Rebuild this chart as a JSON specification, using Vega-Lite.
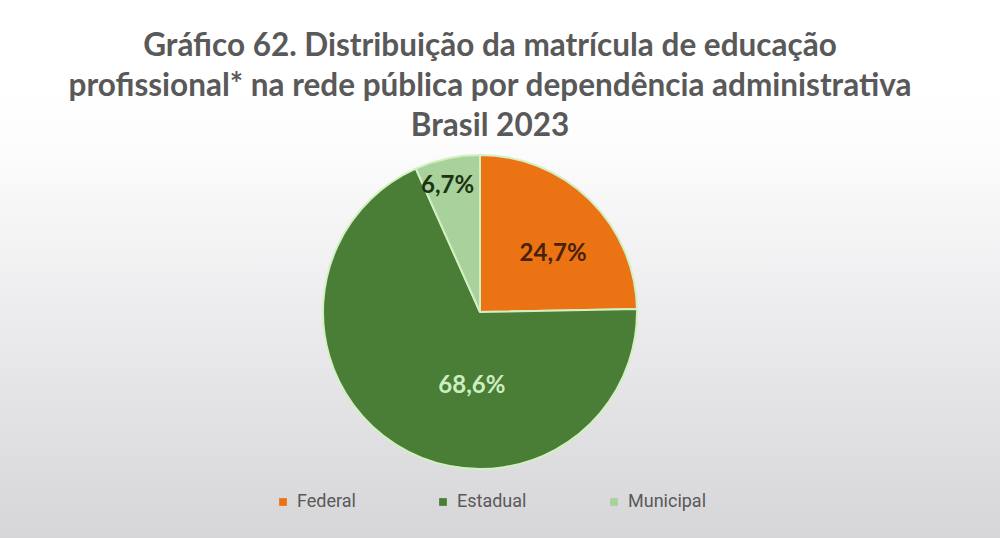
{
  "$schema": "https://vega.github.io/schema/vega-lite/v6.json",
  "width": 1000,
  "height": 452,
  "autosize": "none",
  "padding": {"top": 86, "left": 0, "right": 0, "bottom": 0},
  "background": "#ffffff",
  "config": {"view": {"stroke": null}},
  "title": {
    "text": [
      "Gráfico 62. Distribuição da matrícula de educação",
      "profissional* na rede pública por dependência administrativa",
      "Brasil 2023"
    ],
    "font": "Lato",
    "fontSize": 31.5,
    "fontWeight": "bold",
    "color": "#595959",
    "lineHeight": 40,
    "anchor": "middle",
    "frame": "group",
    "dx": -10,
    "offset": -56
  },
  "data": {
    "values": [
      {"dependencia": "Federal", "valor": 24.7, "rotulo": "24,7%", "ordem": 1},
      {"dependencia": "Estadual", "valor": 68.6, "rotulo": "68,6%", "ordem": 2},
      {"dependencia": "Municipal", "valor": 6.7, "rotulo": "6,7%", "ordem": 3}
    ]
  },
  "layer": [
    {
      "data": {"values": [{"fundo": 1}]},
      "mark": {
        "type": "rect",
        "fill": {
          "gradient": "linear", "x1": 0, "y1": 0, "x2": 0, "y2": 1,
          "stops": [
            {"offset": 0, "color": "#ffffff"},
            {"offset": 0.14, "color": "#fcfcfd"},
            {"offset": 1, "color": "#d6d5d8"}
          ]
        }
      },
      "encoding": {}
    },
    {
      "mark": {"type": "arc", "outerRadius": 157, "stroke": "#d2f0c2", "strokeWidth": 2, "xOffset": -20},
      "encoding": {
        "theta": {"field": "valor", "type": "quantitative", "stack": true},
        "order": {"field": "ordem", "type": "quantitative"},
        "color": {
          "field": "dependencia",
          "type": "nominal",
          "sort": ["Federal", "Estadual", "Municipal"],
          "scale": {"domain": ["Federal", "Estadual", "Municipal"], "range": ["#ec7314", "#4a7d35", "#a8d19c"]},
          "legend": {
            "title": null,
            "orient": "none",
            "direction": "horizontal",
            "legendX": 274,
            "legendY": 407,
            "symbolType": "square",
            "symbolSize": 60,
            "symbolStrokeWidth": 0,
            "labelFont": "Roboto",
            "labelFontSize": 18,
            "labelColor": "#595959",
            "labelOffset": 5,
            "columnPadding": 78
          }
        }
      }
    },
    {
      "mark": {"type": "text", "font": "Lato", "fontSize": 24, "fontWeight": "bold", "color": "#4a2208", "radius": 93, "xOffset": -20, "dx": 8, "dy": 8},
      "encoding": {
        "theta": {"field": "valor", "type": "quantitative", "stack": true},
        "order": {"field": "ordem", "type": "quantitative"},
        "text": {"field": "rotulo"},
        "opacity": {"condition": {"test": "datum.dependencia === 'Federal'", "value": 1}, "value": 0}
      }
    },
    {
      "mark": {"type": "text", "font": "Lato", "fontSize": 24, "fontWeight": "bold", "color": "#1c3410", "radius": 131, "xOffset": -20, "dx": -5, "dy": 2},
      "encoding": {
        "theta": {"field": "valor", "type": "quantitative", "stack": true},
        "order": {"field": "ordem", "type": "quantitative"},
        "text": {"field": "rotulo"},
        "opacity": {"condition": {"test": "datum.dependencia === 'Municipal'", "value": 1}, "value": 0}
      }
    },
    {
      "mark": {"type": "text", "font": "Lato", "fontSize": 24, "fontWeight": "bold", "color": "#cdeec0", "radius": 73, "xOffset": -20, "dx": 31, "dy": 12},
      "encoding": {
        "theta": {"field": "valor", "type": "quantitative", "stack": true},
        "order": {"field": "ordem", "type": "quantitative"},
        "text": {"field": "rotulo"},
        "opacity": {"condition": {"test": "datum.dependencia === 'Estadual'", "value": 1}, "value": 0}
      }
    }
  ]
}
